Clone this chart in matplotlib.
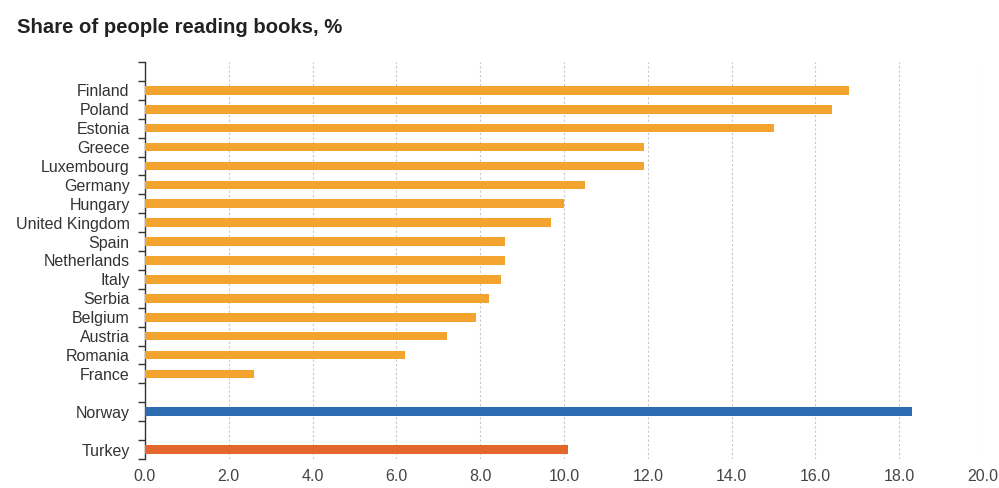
import matplotlib
matplotlib.use("Agg")
import matplotlib.pyplot as plt
import numpy as np

plt.rcParams['font.family'] = ['Liberation Sans', 'DejaVu Sans']

countries = ["Finland", "Poland", "Estonia", "Greece", "Luxembourg", "Germany",
             "Hungary", "United Kingdom", "Spain", "Netherlands", "Italy",
             "Serbia", "Belgium", "Austria", "Romania", "France"]
values = [16.8, 16.4, 15.0, 11.9, 11.9, 10.5, 10.0, 9.7, 8.6, 8.6, 8.5,
          8.2, 7.9, 7.2, 6.2, 2.6]
norway_value = 18.3
turkey_value = 10.1
xticks = [0, 2, 4, 6, 8, 10, 12, 14, 16, 18, 20]

eu_color = "#F2A42E"
norway_color = "#2D6CB0"
turkey_color = "#E3662C"

# slot layout: blank, 16 countries, blank, Norway, blank, Turkey
labels = [""] + countries + ["", "Norway", "", "Turkey"]
vals = [np.nan] + values + [np.nan, norway_value, np.nan, turkey_value]
colors = ["none"] + [eu_color] * len(countries) + ["none", norway_color, "none", turkey_color]
pos = np.arange(len(labels))

fig = plt.figure(figsize=(9.99, 4.88), dpi=100)
ax = fig.add_axes([0.1451, 0.0594, 0.984 - 0.1451, 0.873 - 0.0594])

ax.barh(pos, np.nan_to_num(vals), height=0.46, color=colors, zorder=3)

ax.set_xlim(0, 20)
ax.set_ylim(len(labels) - 0.5, -0.5)
ax.set_xticks(xticks)
ax.set_xticklabels([f"{t:.1f}" for t in xticks], fontsize=11.5, color="#444444")
ax.set_yticks(pos)
ax.set_yticklabels(labels, fontsize=11.5, color="#333333")
ax.tick_params(axis="y", length=0, pad=11)
ax.tick_params(axis="x", length=0, pad=7)

# boundary ticks on the left spine
ax.set_yticks(np.arange(len(labels) + 1) - 0.5, minor=True)
ax.tick_params(axis="y", which="minor", length=5, width=1, color="#333333", direction="out")

for s in ["top", "right", "bottom"]:
    ax.spines[s].set_visible(False)
ax.spines["left"].set_color("#333333")
ax.spines["left"].set_linewidth(1)

ax.grid(axis="x", color="#C8C8C8", linestyle=(0, (2, 2)), linewidth=0.8, zorder=0)
ax.set_axisbelow(True)

fig.text(0.017, 0.944, "Share of people reading books, %", fontsize=14.6,
         fontweight="bold", color="#222222", ha="left", va="center")

fig.savefig("out.png", dpi=100)
